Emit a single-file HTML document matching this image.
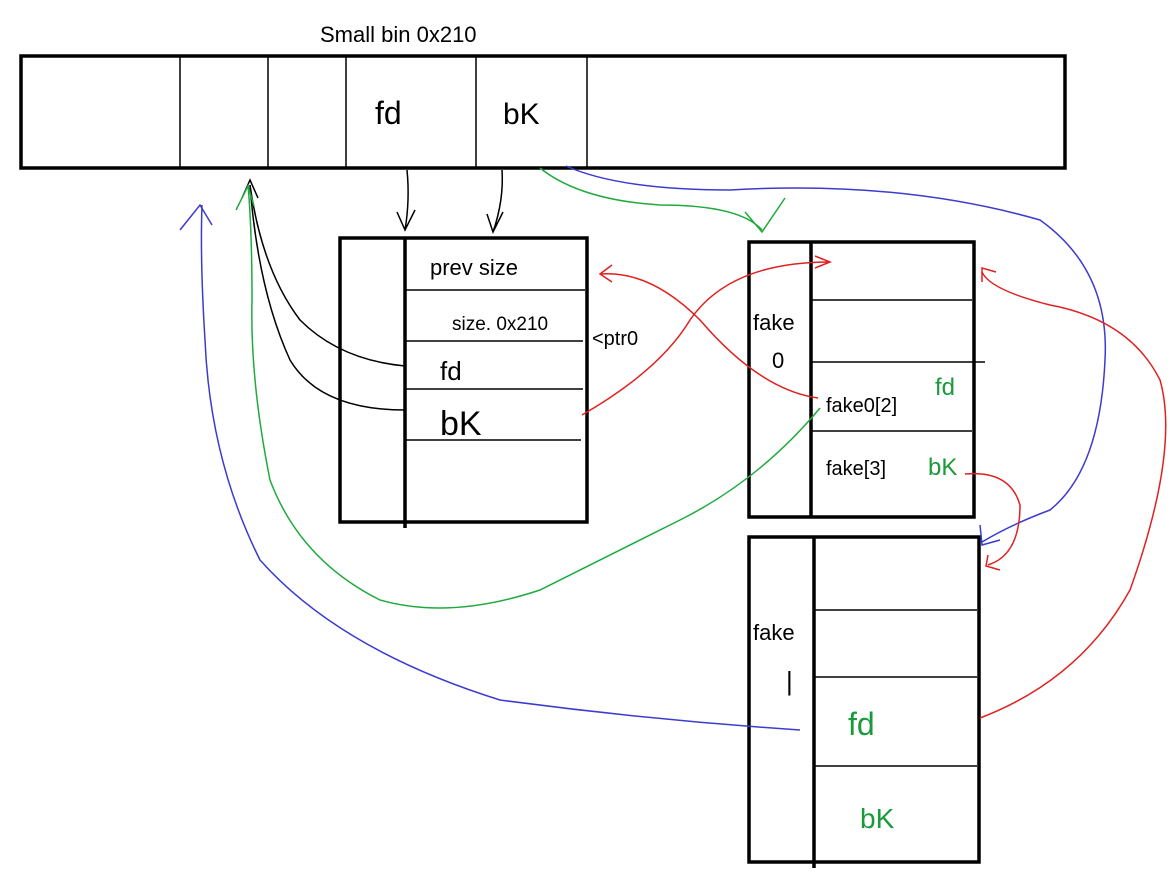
<!DOCTYPE html>
<html><head><meta charset="utf-8"><style>
html,body{margin:0;padding:0;background:#fff}
svg{display:block}
text{font-family:"Liberation Sans",sans-serif;fill:#000}
.g{fill:#1a9a3a}
</style></head><body>
<svg width="1174" height="886" viewBox="0 0 1174 886">
<g fill="none" stroke="#000">
 <g>
  <rect x="21" y="56" width="1044" height="112" stroke-width="3.5"/>
  <path d="M180 56V168M268 56V168M346 56V168M476 56V168M587 56V168" stroke-width="1.5"/>
 </g>
 <g>
  <rect x="340" y="238" width="247" height="284" stroke-width="3.5"/>
  <path d="M405 238V528" stroke-width="3.5"/>
  <path d="M405 290H585M405 341H583M405 389H583M405 440H581" stroke-width="1.5"/>
 </g>
 <g>
  <rect x="749" y="242" width="225" height="275" stroke-width="3.5"/>
  <path d="M811 242V517" stroke-width="3.5"/>
  <path d="M811 300H972M811 362H985M811 431H972" stroke-width="1.5"/>
 </g>
 <g>
  <rect x="749" y="537" width="230" height="325" stroke-width="3.5"/>
  <path d="M814 537V868" stroke-width="3.5"/>
  <path d="M814 610H977M814 677H977M814 766H977" stroke-width="1.5"/>
 </g>
 <!-- black arrows -->
 <g stroke-width="1.5">
  <path d="M407 170Q410 200 405 230M397 212L405 230L415 210"/>
  <path d="M502 170Q504 200 493 232M487 214L493 232L503 212"/>
  <path d="M405 366Q340 360 300 320Q262 270 250 185"/>
  <path d="M405 410Q320 410 290 360Q258 290 250 185"/>
  <path d="M242 198L250 180L258 198"/>
 </g>
 <!-- green arrows -->
 <g stroke="#1faa3e" stroke-width="1.5">
  <path d="M540 168Q580 200 660 205Q740 205 762 230M745 212L762 232L785 198"/>
  <path d="M820 408Q760 480 680 520Q600 560 540 590Q450 620 380 600Q300 560 270 480Q250 380 252 300Q252 230 248 185M236 210L248 186L254 206"/>
 </g>
 <!-- blue arrows -->
 <g stroke="#3b3bd0" stroke-width="1.5">
  <path d="M566 166Q620 190 730 190Q900 180 1040 220Q1110 270 1105 360Q1100 470 1050 510Q1010 525 982 542M980 525L982 545L1000 540"/>
  <path d="M800 730Q650 720 500 700Q340 650 260 560Q210 460 205 340Q200 260 202 205M180 230L200 205L212 225"/>
 </g>
 <!-- red arrows -->
 <g stroke="#e02020" stroke-width="1.5">
  <path d="M582 415Q660 370 690 320Q730 262 830 262M815 256L830 262L815 268"/>
  <path d="M818 398Q760 390 700 320Q650 270 600 274M612 265L600 274L612 282"/>
  <path d="M965 474Q1010 470 1020 505Q1020 555 988 565M988 555L986 566L1000 570"/>
  <path d="M980 718Q1080 680 1130 590Q1180 450 1160 380Q1130 320 1050 305Q990 290 982 272M982 282L982 268L996 272"/>
 </g>
</g>
<text x="320" y="42" font-size="22">Small bin 0x210</text>
<text x="375" y="124" font-size="32">fd</text>
<text x="503" y="124" font-size="30">bK</text>
<text x="430" y="275" font-size="22">prev size</text>
<text x="452" y="330" font-size="19">size. 0x210</text>
<text x="592" y="345" font-size="20">&lt;ptr0</text>
<text x="440" y="380" font-size="26">fd</text>
<text x="440" y="435" font-size="34">bK</text>
<text x="753" y="330" font-size="22">fake</text>
<text x="772" y="368" font-size="22">0</text>
<text x="826" y="412" font-size="20">fake0[2]</text>
<text x="935" y="395" font-size="24" class="g">fd</text>
<text x="826" y="475" font-size="20">fake[3]</text>
<text x="928" y="475" font-size="24" class="g">bK</text>
<text x="753" y="640" font-size="22">fake</text>
<text x="786" y="690" font-size="26">|</text>
<text x="848" y="735" font-size="32" class="g">fd</text>
<text x="860" y="828" font-size="28" class="g">bK</text>
</svg>
</body></html>
